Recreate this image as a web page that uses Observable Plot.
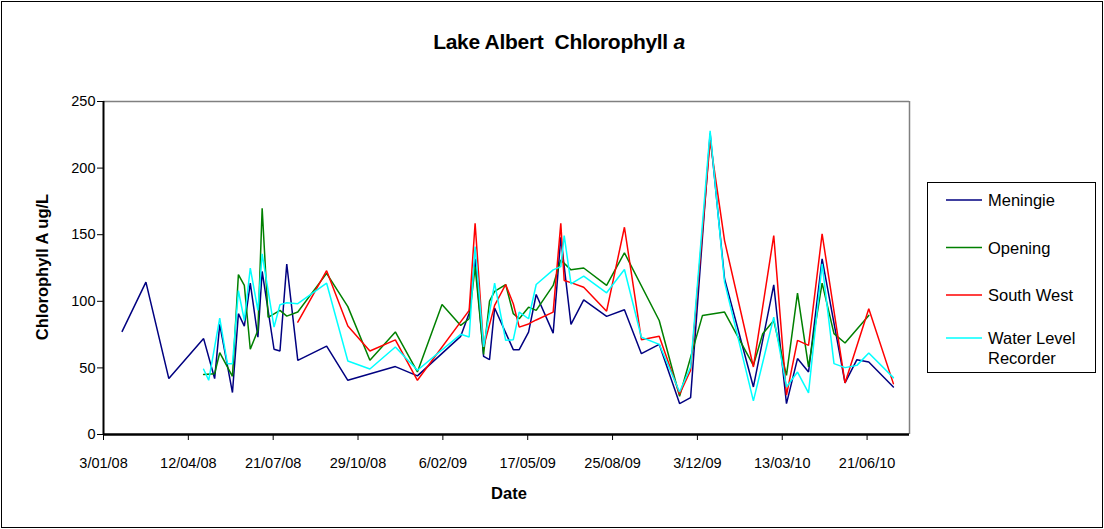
<!DOCTYPE html>
<html>
<head>
<meta charset="utf-8">
<script src="https://cdn.jsdelivr.net/npm/d3@7"></script>
<script src="https://cdn.jsdelivr.net/npm/@observablehq/plot@0.6"></script>
<style>
  html, body { margin: 0; padding: 0; background: #fff; }
  #chart svg { display: block; }
</style>
</head>
<body>
<div id="chart"></div>
<script>
// ---- Data ----
const title = "Lake Albert  Chlorophyll ";
const titleItalic = "a";
const yLabel = "Chlorophyll A ug/L";
const xLabel = "Date";

const sites = ["Meningie", "Opening", "South West", "Water Level Recorder"];
const siteColors = ["#000080", "#008000", "#FF0000", "#00FFFF"];

const yTicks = [0, 50, 100, 150, 200, 250];
const xTickLabels = ["3/01/08", "12/04/08", "21/07/08", "29/10/08", "6/02/09", "17/05/09", "25/08/09", "3/12/09", "13/03/10", "21/06/10"];
const xDomain = ["2008-01-03", "2010-08-10"];

const dates = [
  "2008-01-25", "2008-02-22", "2008-03-20", "2008-04-30", "2008-05-06", "2008-05-13", "2008-05-19", "2008-05-28",
  "2008-06-03", "2008-06-10", "2008-06-17", "2008-06-24", "2008-07-03", "2008-07-08", "2008-07-15", "2008-07-22",
  "2008-07-29", "2008-08-06", "2008-08-19", "2008-09-22", "2008-10-17", "2008-11-12", "2008-12-12", "2009-01-07",
  "2009-02-05", "2009-02-27", "2009-03-09", "2009-03-16", "2009-03-26", "2009-04-02", "2009-04-08", "2009-04-21",
  "2009-04-30", "2009-05-07", "2009-05-18", "2009-05-27", "2009-06-16", "2009-06-25", "2009-06-29", "2009-07-07",
  "2009-07-22", "2009-08-18", "2009-09-08", "2009-09-28", "2009-10-19", "2009-11-12", "2009-11-25", "2009-12-09",
  "2009-12-18", "2010-01-04", "2010-02-07", "2010-02-18", "2010-03-03", "2010-03-18", "2010-03-31", "2010-04-13",
  "2010-04-29", "2010-05-13", "2010-05-26", "2010-06-09", "2010-06-23", "2010-07-22"
];

const meningie = [
  77.4, 114.4, 42, 72, null, 42, 82.7, null,
  31.5, 90.7, 81.4, 113.6, 73, 122.4, null, 64,
  62.7, 128, 55.7, 66.4, 40.7, null, 51, 44,
  null, 73.7, 91.1, 131.9, 58.7, 56.2, 95, null,
  63.7, 63.7, 76.9, 105.1, 76.1, 148, null, 82.7,
  101, 88.7, 93.7, 60.7, 67.7, 23.2, 27.7, null,
  226, 116.9, 35.7, null, 112.4, 23.2, 57, 46.9,
  131.9, null, 38.7, 56.2, 54.4, 35.7
];

const opening = [
  null, null, null, 45, null, 45.7, 61.4, null,
  43.7, 120, 111.9, 64, 78.2, 169.8, 88, null,
  93.2, 88.9, 92, 121, 96, 55.7, 77, 47,
  97.6, 81.9, 86.9, 126, 60.2, 100.1, 107.4, 112.6,
  90.7, 86.9, 95.6, 93.2, 111.9, 131, null, 123.6,
  125, 112, 136.4, null, 85.6, 28.7, null, 89.4,
  null, 91.9, 51.9, 75.7, 85.6, 44.4, 106.1, 50.7,
  113.6, 75.7, 68.7, null, 89.4, null
];

const southWest = [
  null, null, null, null, null, null, null, null,
  null, null, null, null, null, null, null, null,
  null, null, 84.4, 123, 81.4, 62.7, 71, 40.7,
  null, null, 93.2, 158.6, 65.7, null, 96.9, 112.6,
  98.2, 80.6, 83, 86, 91.9, 158.6, 115.6, 114,
  110.6, 92.6, 155.6, 71.2, 73.7, 30.2, 48.2, null,
  220.5, 145.6, 50.7, null, 149.4, 29.5, 70.7, 66.9,
  150.6, null, 38.7, null, 94.4, 38.2
];

const waterLevelRecorder = [
  null, null, null, 49, 40.7, null, 87.4, 53.2,
  53.2, 108, 85.6, 124.9, 93.2, 135.6, null, 80.6,
  97.4, 98.9, 98.2, 113.6, 55.2, 49.2, 65.7, 48.2,
  null, 75.2, 73.2, 141.1, 65.7, null, 113.6, 70.7,
  71.2, 91.9, 86.9, 112.6, 123.6, 126, 149.4, 113.1,
  118.9, 106.4, 123.9, 73, 67.7, 31.9, 50.7, null,
  228, 114.4, 25.2, null, 88.1, 35.7, 46.9, 31.2,
  128.1, 53.2, 50.2, 51.9, 61.2, 42.7
];

// ---- Build tidy table ----
const seriesValues = [meningie, opening, southWest, waterLevelRecorder];
const rows = sites.flatMap((site, s) =>
  dates.map((d, i) => ({site, date: new Date(d), value: seriesValues[s][i]}))
       .filter(r => r.value != null)
);

function parseTick(label) {
  const [d, m, y] = label.split("/").map(Number);
  return new Date(Date.UTC(2000 + y, m - 1, d));
}
const xTicks = xTickLabels.map(parseTick);
const tickLabelOf = new Map(xTicks.map((t, i) => [+t, xTickLabels[i]]));
const xStart = new Date(xDomain[0]);
const xEnd = new Date(xDomain[1]);

const W = 1104, H = 529;
const chart = Plot.plot({
  width: W,
  height: H,
  marginLeft: 103,
  marginRight: 195,
  marginTop: 101,
  marginBottom: 95,
  style: {fontFamily: "'Liberation Sans', Arial, sans-serif", fontSize: "14.5px", background: "#fff", color: "#000", overflow: "visible"},
  x: {type: "utc", domain: [xStart, xEnd]},
  y: {domain: [0, 250]},
  color: {domain: sites, range: siteColors},
  marks: [
    Plot.ruleY([250], {stroke: "#808080", strokeWidth: 1.5}),
    Plot.ruleX([xEnd], {stroke: "#808080", strokeWidth: 1.5}),
    Plot.line(rows, {x: "date", y: "value", z: "site", stroke: "site", strokeWidth: 1.5, strokeLinejoin: "miter", curve: "linear"}),
    Plot.axisY({ticks: yTicks, tickSize: 6, tickPadding: 2, label: null, tickFormat: d => String(d), fontSize: 14.5}),
    Plot.axisX({ticks: xTicks, tickSize: 6, tickPadding: 17, label: null, tickFormat: d => tickLabelOf.get(+d), fontSize: 14.5}),
    Plot.ruleX([xStart], {stroke: "#000", strokeWidth: 2}),
    Plot.ruleY([0], {stroke: "#000", strokeWidth: 2.5})
  ]
});

document.getElementById("chart").appendChild(chart);

// ---- Extra annotations inside the same SVG ----
const svg = d3.select(chart);
const font = "'Liberation Sans', Arial, sans-serif";

// outer border
svg.append("rect")
  .attr("x", 1.5).attr("y", 1.5).attr("width", W - 3).attr("height", H - 3)
  .attr("fill", "none").attr("stroke", "#000").attr("stroke-width", 1);

// title
const t = svg.append("text")
  .attr("x", 559).attr("y", 49)
  .attr("text-anchor", "middle")
  .attr("font-family", font).attr("font-weight", "bold").attr("font-size", 21)
  .attr("letter-spacing", -0.3)
  .attr("fill", "#000");
t.append("tspan").text(title);
t.append("tspan").attr("font-style", "italic").text(titleItalic);

// y label
svg.append("text")
  .attr("transform", "translate(48,267) rotate(-90)")
  .attr("text-anchor", "middle")
  .attr("font-family", font).attr("font-weight", "bold").attr("font-size", 16.5)
  .attr("fill", "#000")
  .text(yLabel);

// x label
svg.append("text")
  .attr("x", 509).attr("y", 499)
  .attr("text-anchor", "middle")
  .attr("font-family", font).attr("font-weight", "bold").attr("font-size", 16.5)
  .attr("fill", "#000")
  .text(xLabel);

// legend
const lg = svg.append("g").attr("text-anchor", "start");
lg.append("rect")
  .attr("x", 927.5).attr("y", 182.5).attr("width", 168).attr("height", 190)
  .attr("fill", "#fff").attr("stroke", "#000").attr("stroke-width", 1);
const legendY = [200, 247.5, 295, 338];
sites.forEach((s, i) => {
  const y = legendY[i];
  lg.append("line")
    .attr("x1", 946).attr("x2", 982).attr("y1", y).attr("y2", y)
    .attr("stroke", siteColors[i]).attr("stroke-width", 1.5);
  const txt = lg.append("text")
    .attr("x", 988).attr("y", y + 6)
    .attr("text-anchor", "start")
    .attr("font-family", font).attr("font-size", 16.5).attr("fill", "#000");
  if (s === "Water Level Recorder") {
    txt.append("tspan").attr("x", 988).text("Water Level");
    txt.append("tspan").attr("x", 988).attr("dy", 20).text("Recorder");
  } else {
    txt.text(s);
  }
});
</script>
</body>
</html>
